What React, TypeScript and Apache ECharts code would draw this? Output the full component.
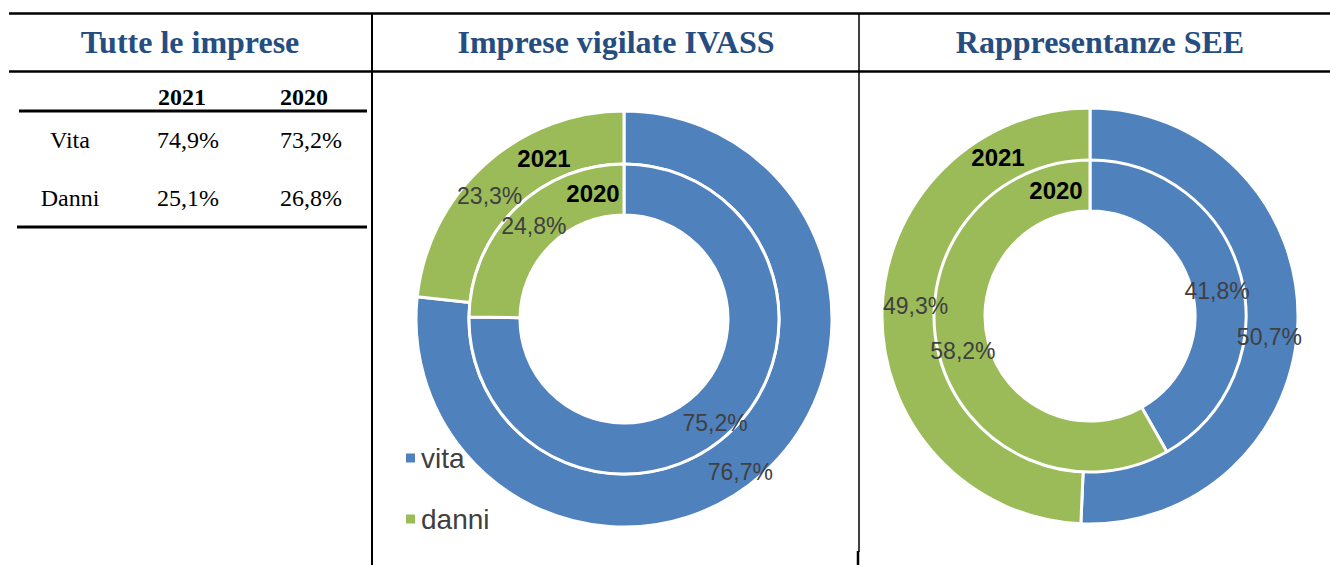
import React, { useEffect, useRef } from "react";
import * as echarts from "echarts";

// ---- data ----
const panelTitles = ["Tutte le imprese", "Imprese vigilate IVASS", "Rappresentanze SEE"];
const years = ["2021", "2020"];
const categories = ["vita", "danni"];
const rowLabels = ["Vita", "Danni"];
const allVita = [74.9, 73.2];
const allDanni = [25.1, 26.8];
const ivassVita = [76.7, 75.2];
const ivassDanni = [23.3, 24.8];
const seeVita = [50.7, 41.8];
const seeDanni = [49.3, 58.2];

// ---- layout / style ----
const BLUE = "#4F81BD";
const GREEN = "#9BBB59";
const TITLE = "#264D80";
const LABEL = "#404040";
const SERIF = "'Liberation Serif', 'Times New Roman', serif";
const SANS = "'Liberation Sans', Arial, sans-serif";

const fmt = (v: number) => v.toFixed(1).replace(".", ",") + "%";

// label offsets [outer(2021), inner(2020)] x [vita, danni]
const ivassOffsets = [
  [[-7, 16], [-11, 14]],
  [[-2, 10], [3, 1]],
];
const seeOffsets = [
  [[-5, 17], [10, -6]],
  [[-2, 9], [2, 1]],
];

function ringSeries(
  name: string,
  center: number[],
  radius: number[],
  vita: number,
  danni: number,
  offsets: number[][]
) {
  const vals = [vita, danni];
  return {
    type: "pie",
    name,
    center,
    radius,
    startAngle: 90,
    clockwise: true,
    silent: true,
    avoidLabelOverlap: false,
    itemStyle: { borderColor: "#fff", borderWidth: 3 },
    label: {
      show: true,
      position: "inside",
      color: LABEL,
      fontFamily: SANS,
      fontSize: 23,
      formatter: (p: any) => fmt(p.value),
    },
    labelLine: { show: false },
    data: categories.map((c, i) => ({
      name: c,
      value: vals[i],
      itemStyle: { color: i === 0 ? BLUE : GREEN },
      label: { offset: offsets[i] },
    })),
  };
}

function txt(text: string, x: number, y: number, font: string, fill: string, align = "center") {
  return {
    type: "text",
    z: 100,
    style: { text, x, y, font, fill, align, verticalAlign: "middle" },
  };
}

function hline(x1: number, x2: number, y: number, w: number) {
  return {
    type: "line",
    z: 100,
    shape: { x1, y1: y, x2, y2: y },
    style: { stroke: "#000", lineWidth: w },
  };
}
function vline(x: number, y1: number, y2: number, w: number) {
  return {
    type: "line",
    z: 100,
    shape: { x1: x, y1, x2: x, y2 },
    style: { stroke: "#000", lineWidth: w },
  };
}

export default function App() {
  const ref = useRef<HTMLDivElement>(null);
  useEffect(() => {
    if (!ref.current) return;
    const chart = echarts.init(ref.current, null, { renderer: "svg" });
    const midC = [624, 319];
    const rightC = [1090, 316];
    const outerR = [155, 208];
    const innerR = [104, 155];

    const titleFont = `bold 32px ${SERIF}`;
    const bodyFont = `24px ${SERIF}`;
    const bodyBold = `bold 24px ${SERIF}`;
    const yearFont = `bold 24px ${SANS}`;

    const graphic: any[] = [
      hline(9, 1330, 13.5, 2.5),
      hline(9, 1330, 71.5, 2.5),
      vline(372, 13, 565, 2),
      vline(859, 13, 552, 1.5),
      vline(858, 551, 565, 2.5),
      txt(panelTitles[0], 190, 42, titleFont, TITLE),
      txt(panelTitles[1], 616, 42, titleFont, TITLE),
      txt(panelTitles[2], 1100, 42, titleFont, TITLE),
      // table
      txt(years[0], 182, 97, bodyBold, "#000"),
      txt(years[1], 304, 97, bodyBold, "#000"),
      hline(19, 367, 111, 3),
      txt(rowLabels[0], 70, 140, bodyFont, "#000"),
      txt(fmt(allVita[0]), 188, 140, bodyFont, "#000"),
      txt(fmt(allVita[1]), 311, 140, bodyFont, "#000"),
      txt(rowLabels[1], 70, 198, bodyFont, "#000"),
      txt(fmt(allDanni[0]), 188, 198, bodyFont, "#000"),
      txt(fmt(allDanni[1]), 311, 198, bodyFont, "#000"),
      hline(17, 367, 227, 3),
      // ring year labels
      txt(years[0], 544, 158, yearFont, "#000"),
      txt(years[1], 593, 193, yearFont, "#000"),
      txt(years[0], 998, 157, yearFont, "#000"),
      txt(years[1], 1056, 190, yearFont, "#000"),
    ];

    chart.setOption({
      animation: false,
      legend: {
        data: categories,
        orient: "vertical",
        left: 399,
        top: 438,
        icon: "rect",
        itemWidth: 11,
        itemHeight: 11,
        itemGap: 31,
        selectedMode: false,
        textStyle: { color: LABEL, fontFamily: SANS, fontSize: 28, lineHeight: 30 },
      },
      graphic,
      series: [
        ringSeries("IVASS " + years[0], midC, outerR, ivassVita[0], ivassDanni[0], ivassOffsets[0]),
        ringSeries("IVASS " + years[1], midC, innerR, ivassVita[1], ivassDanni[1], ivassOffsets[1]),
        ringSeries("SEE " + years[0], rightC, outerR, seeVita[0], seeDanni[0], seeOffsets[0]),
        ringSeries("SEE " + years[1], rightC, [105, 156], seeVita[1], seeDanni[1], seeOffsets[1]),
      ],
    });
    return () => chart.dispose();
  }, []);
  return (
    <div
      ref={ref}
      style={{ position: "absolute", left: 0, top: 0, width: 1330, height: 565, background: "#fff" }}
    />
  );
}
